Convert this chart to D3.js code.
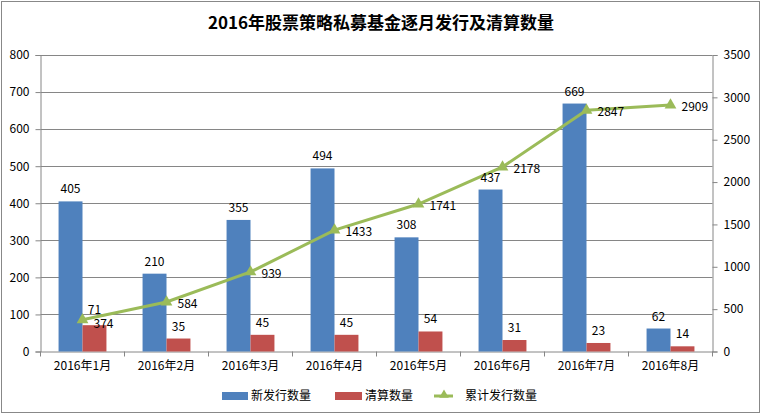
<!DOCTYPE html>
<html><head><meta charset="utf-8">
<script src="https://cdn.jsdelivr.net/npm/d3@7"></script>
<style>
body{margin:0;background:#fff;}
text{font-family:"Noto Sans CJK SC","Noto Sans",sans-serif;}
</style></head>
<body>
<svg id="c" width="763" height="420"></svg>
<script>
const title = "2016年股票策略私募基金逐月发行及清算数量";
const categories = ["2016年1月","2016年2月","2016年3月","2016年4月","2016年5月","2016年6月","2016年7月","2016年8月"];
const newIssue = [405,210,355,494,308,437,669,62];
const liquidated = [71,35,45,45,54,31,23,14];
const cumulative = [374,584,939,1433,1741,2178,2847,2909];
const leftTicks = [0,100,200,300,400,500,600,700,800];
const rightTicks = [0,500,1000,1500,2000,2500,3000,3500];
const seriesNames = ["新发行数量","清算数量","累计发行数量"];
const colors = ["#4F81BD","#C0504D","#9BBB59"];

const svg = d3.select("#c");
svg.append("rect").attr("x",1.5).attr("y",1.5).attr("width",758).attr("height",411)
  .attr("fill","#fff").attr("stroke","#888").attr("stroke-width",1);

const L=40.5, R=712.5, T=55, B=351.5;
const x = d3.scaleBand().domain(categories).range([L,R]).paddingInner(0.43).paddingOuter(0.215);
const xo = d3.scaleBand().domain(categories).range([L,R]);
const y = d3.scaleLinear().domain([0,800]).range([B,T]);
const y2 = d3.scaleLinear().domain([0,3500]).range([B,T]);

svg.append("text").attr("x",381).attr("y",29).attr("text-anchor","middle")
  .attr("font-size",17).attr("font-weight","bold").attr("fill","#000").text(title);

// gridlines
svg.append("g").selectAll("line").data(leftTicks.slice(1)).join("line")
  .attr("x1",L).attr("x2",R).attr("y1",d=>Math.round(y(d))+0.5).attr("y2",d=>Math.round(y(d))+0.5)
  .attr("stroke","#868686").attr("stroke-width",1);

// axes
const ga = svg.append("g").attr("transform",`translate(${L},0)`)
  .call(d3.axisLeft(y).tickValues(leftTicks).tickFormat(d3.format("d")).tickSize(5).tickPadding(6));
const gb = svg.append("g").attr("transform",`translate(${R},0)`)
  .call(d3.axisRight(y2).tickValues(rightTicks).tickFormat(d3.format("d")).tickSize(5).tickPadding(6));
const gx = svg.append("g").attr("transform",`translate(0,${B})`)
  .call(d3.axisBottom(xo).tickSize(0).tickPadding(10));
[ga,gb,gx].forEach(g=>{
  g.select(".domain").attr("stroke","#868686");
  g.selectAll(".tick line").attr("stroke","#868686");
  g.selectAll("text").attr("font-size",12).attr("fill","#000").attr("font-family","'Noto Sans CJK SC',sans-serif");
});
// x category separator ticks
svg.append("g").selectAll("line").data(d3.range(categories.length+1)).join("line")
  .attr("x1",i=>L+i*xo.step()).attr("x2",i=>L+i*xo.step())
  .attr("y1",B).attr("y2",B+5).attr("stroke","#868686");

const bw = x.bandwidth()/2;
// bars
svg.append("g").selectAll("rect").data(newIssue).join("rect")
  .attr("x",(d,i)=>x(categories[i])).attr("width",bw)
  .attr("y",d=>y(d)).attr("height",d=>B-y(d)).attr("fill",colors[0]);
svg.append("g").selectAll("rect").data(liquidated).join("rect")
  .attr("x",(d,i)=>x(categories[i])+bw).attr("width",bw)
  .attr("y",d=>y(d)).attr("height",d=>B-y(d)).attr("fill",colors[1]);

// line
const cx = i=>xo(categories[i])+xo.bandwidth()/2;
const line = d3.line().x((d,i)=>cx(i)).y(d=>y2(d));
svg.append("path").datum(cumulative).attr("d",line).attr("fill","none")
  .attr("stroke",colors[2]).attr("stroke-width",3);
const tri = d3.symbol().type(d3.symbolTriangle).size(60);
svg.append("g").selectAll("path").data(cumulative).join("path")
  .attr("transform",(d,i)=>`translate(${cx(i)},${y2(d)})`).attr("d",tri).attr("fill",colors[2]);

// labels
svg.append("g").selectAll("text").data(newIssue).join("text")
  .attr("x",(d,i)=>x(categories[i])+bw/2).attr("y",d=>y(d)-8)
  .attr("text-anchor","middle").attr("font-size",12).attr("fill","#000").text(d=>d);
svg.append("g").selectAll("text").data(liquidated).join("text")
  .attr("x",(d,i)=>x(categories[i])+bw*1.5).attr("y",(d,i)=>y(d)-(i===0?11:8))
  .attr("text-anchor","middle").attr("font-size",12).attr("fill","#000").text(d=>d);
svg.append("g").selectAll("text").data(cumulative).join("text")
  .attr("x",(d,i)=>cx(i)+11).attr("y",(d,i)=>y2(d)+(i===0?8:6))
  .attr("font-size",12).attr("fill","#000").text(d=>d);

// legend
const lg = svg.append("g").attr("font-size",12);
lg.append("rect").attr("x",222).attr("y",392).attr("width",26).attr("height",8).attr("fill",colors[0]);
lg.append("text").attr("x",251).attr("y",400).text(seriesNames[0]);
lg.append("rect").attr("x",335).attr("y",392).attr("width",27).attr("height",8).attr("fill",colors[1]);
lg.append("text").attr("x",365).attr("y",400).text(seriesNames[1]);
lg.append("line").attr("x1",434).attr("x2",453).attr("y1",396).attr("y2",396).attr("stroke",colors[2]).attr("stroke-width",3);
lg.append("path").attr("transform","translate(444,395)").attr("d",d3.symbol().type(d3.symbolTriangle).size(40)).attr("fill",colors[2]);
lg.append("text").attr("x",465).attr("y",400).text(seriesNames[2]);
</script>
</body></html>
